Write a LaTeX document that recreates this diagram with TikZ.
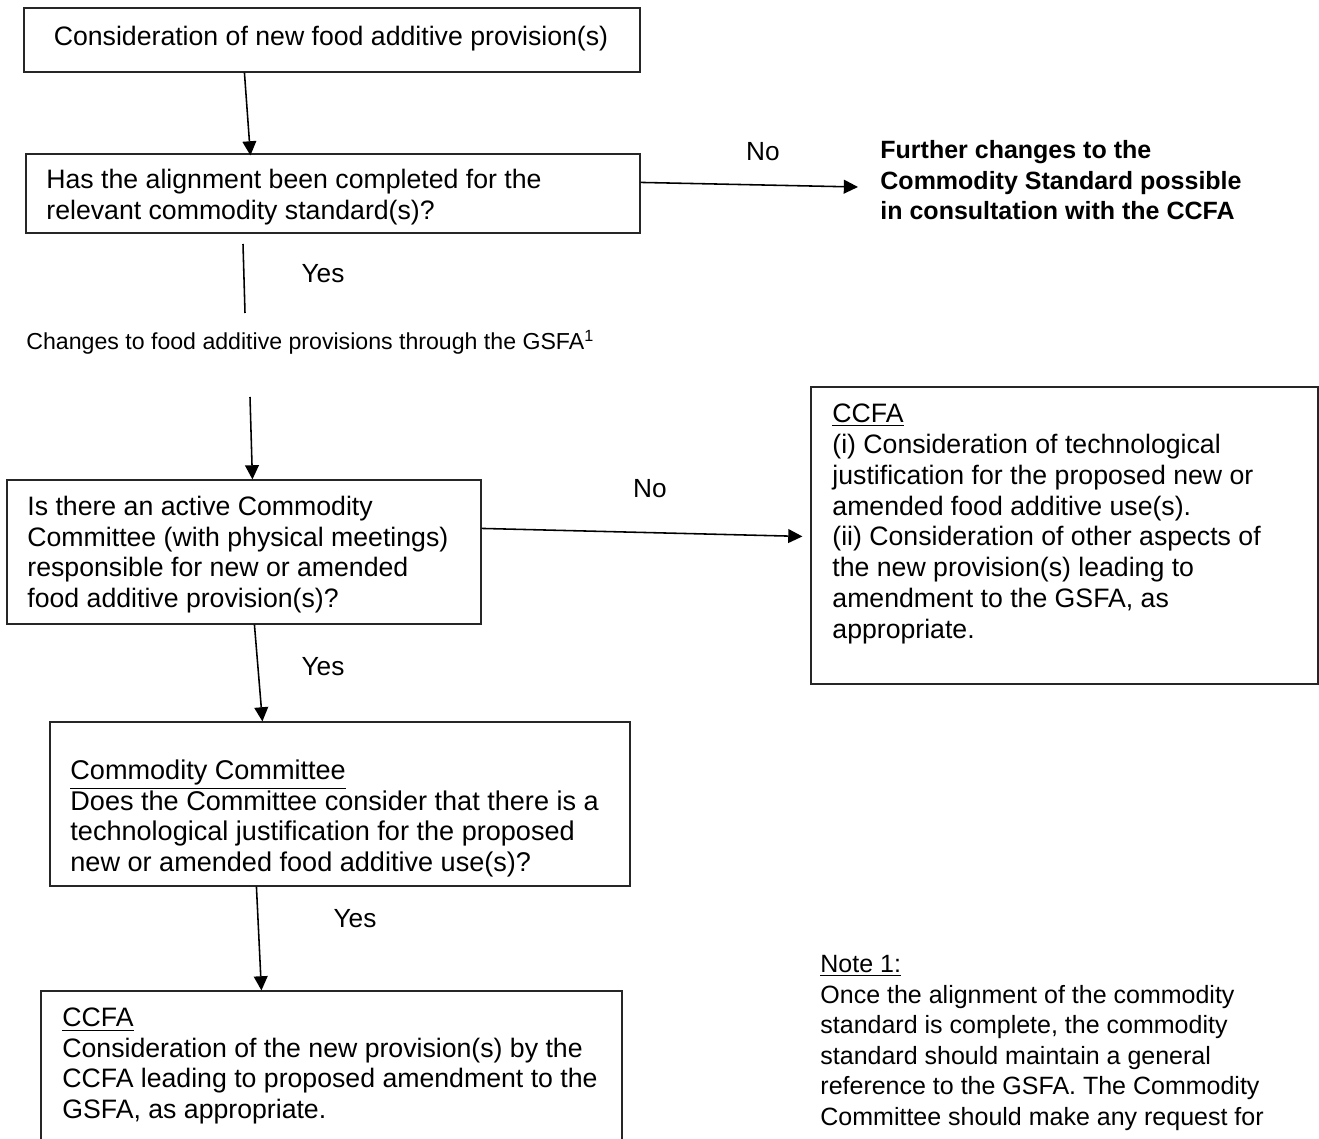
\documentclass[tikz,border=0pt]{standalone}
\usepackage{fontspec}
\setmainfont{Liberation Sans}
\usetikzlibrary{arrows.meta,calc,fit}
\begin{document}
\begin{tikzpicture}[x=0.48pt,y=-0.48pt,
  box/.style={draw=black!85,line width=0.55pt,inner sep=0pt,rectangle},
  txt/.style={anchor=base west,inner sep=0pt,align=left,font=\fontsize{12.8}{14.6}\selectfont},
  lbl/.style={anchor=base,inner sep=0pt,font=\fontsize{12.6}{14.6}\selectfont},
  arr/.style={-{Triangle[length=6.8pt,width=6.6pt]},line width=0.75pt},
  ln/.style={line width=0.75pt}]
\useasboundingbox (0,0) rectangle (1319,1139);
\clip (0,0) rectangle (1319,1139);
% boxes
\node[box,fit={(24,8)(640,72)}] (b1) {};
\node[box,fit={(26,154)(640,233)}] (b2) {};
\node[box,fit={(7,480)(481,624)}] (b3) {};
\node[box,fit={(811,387)(1318,684)}] (b4) {};
\node[box,fit={(50,722)(630,886)}] (b5) {};
\node[box,fit={(41,991)(622,1170)}] (b6) {};
% texts (anchor = baseline of the last line)
\node[lbl,font=\fontsize{12.8}{14.6}\selectfont] (t1) at (331,46) {Consideration of new food additive provision(s)};
\node[txt] (t2) at (46,219.4) {Has the alignment been completed for the\\relevant commodity standard(s)?};
\node[txt,font=\fontsize{12}{14.6}\selectfont\bfseries] (fur) at (880,219.5) {Further changes to the\\Commodity Standard possible\\in consultation with the CCFA};
\node[txt,font=\fontsize{11.1}{14.6}\selectfont] (chg) at (26,350) {Changes to food additive provisions through the GSFA\textsuperscript{1}};
\node[txt] (t3) at (27,607.2) {Is there an active Commodity\\Committee (with physical meetings)\\responsible for new or amended\\food additive provision(s)?};
\node[txt,font=\fontsize{12.8}{14.85}\selectfont] (t4) at (832,638.8) {\underline{CCFA}\\(i) Consideration of technological\\justification for the proposed new or\\amended food additive use(s).\\(ii) Consideration of other aspects of\\the new provision(s) leading to\\amendment to the GSFA, as\\appropriate.};
\node[txt,font=\fontsize{13}{14.6}\selectfont] (t5) at (70,871) {\underline{Commodity Committee}\\Does the Committee consider that there is a\\technological justification for the proposed\\new or amended food additive use(s)?};
\node[txt] (t6) at (62,1118) {\underline{CCFA}\\Consideration of the new provision(s) by the\\CCFA leading to proposed amendment to the\\GSFA, as appropriate.};
\node[txt,font=\fontsize{12}{14.64}\selectfont] (note) at (820,1125) {\underline{Note 1:}\\Once the alignment of the commodity\\standard is complete, the commodity\\standard should maintain a general\\reference to the GSFA. The Commodity\\Committee should make any request for};
% labels
\node[lbl] (no1) at (763,161) {No};
\node[lbl] (yes1) at (323,283) {Yes};
\node[lbl] (no2) at (650,497) {No};
\node[lbl] (yes2) at (323,675) {Yes};
\node[lbl] (yes3) at (355,927) {Yes};
% connectors
\draw[arr] ($(b1.south west)+(221,0)$) -- ($(b2.north west)+(225,2)$);
\coordinate (furin) at (858,187);
\draw[arr] ($(b2.north east)+(0,29)$) -- (furin);
\coordinate (ya) at (243,244);
\coordinate (yb) at (245,313);
\draw[ln] (ya) -- (yb);
\coordinate (gs) at (250,397);
\draw[arr] (gs) -- ($(b3.north west)+(246,0)$);
\draw[arr] ($(b3.north east)+(0,49)$) -- ($(b4.north west)+(-8,150)$);
\draw[arr] ($(b3.south west)+(248,0)$) -- ($(b5.north west)+(213,0)$);
\draw[arr] ($(b5.south west)+(207,0)$) -- ($(b6.north west)+(221,0)$);
\end{tikzpicture}
\end{document}
